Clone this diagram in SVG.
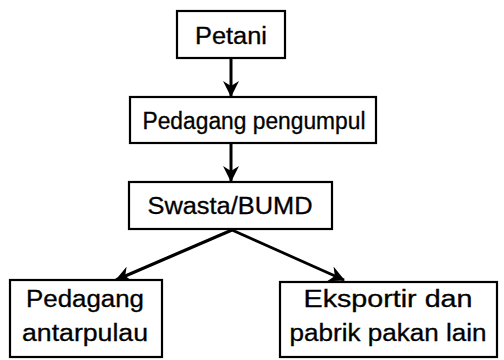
<svg xmlns="http://www.w3.org/2000/svg" width="504" height="360" viewBox="0 0 504 360">
<defs>
<style>
.box{fill:#fff;stroke:#000;stroke-width:2.2}
.t{font-family:"Liberation Sans",Arial,sans-serif;font-size:23px;fill:#000;text-anchor:middle;stroke:#000;stroke-width:0.3}
.c{stroke:#000;stroke-width:3;fill:none}
</style>
<marker id="ah" viewBox="0 0 16 16" refX="15" refY="8" markerWidth="16" markerHeight="16" markerUnits="userSpaceOnUse" orient="auto">
<path d="M0,0 L16,8 L0,16 L5,8 Z" fill="#000"/>
</marker>
</defs>
<rect width="504" height="360" fill="#fff"/>
<g id="connectors">
<line class="c" x1="231" y1="58" x2="231" y2="96" marker-end="url(#ah)"/>
<line class="c" x1="231" y1="143" x2="231" y2="181" marker-end="url(#ah)"/>
<line class="c" x1="232" y1="230" x2="116" y2="280" marker-end="url(#ah)"/>
<line class="c" x1="232" y1="230" x2="344" y2="280" marker-end="url(#ah)"/>
</g>
<g id="petani">
<rect class="box" x="177" y="11" width="108" height="47"/>
<text class="t" x="231" y="44" textLength="72" lengthAdjust="spacingAndGlyphs">Petani</text>
</g>
<g id="pedagang-pengumpul">
<rect class="box" x="130" y="97" width="246" height="46"/>
<text class="t" x="254" y="129" textLength="223" lengthAdjust="spacingAndGlyphs">Pedagang pengumpul</text>
</g>
<g id="swasta-bumd">
<rect class="box" x="129" y="182" width="203" height="47"/>
<text class="t" x="230" y="214" textLength="165" lengthAdjust="spacingAndGlyphs">Swasta/BUMD</text>
</g>
<g id="pedagang-antarpulau">
<rect class="box" x="10" y="280" width="152" height="77"/>
<text class="t" x="85" y="307" textLength="118" lengthAdjust="spacingAndGlyphs">Pedagang</text>
<text class="t" x="85" y="341" textLength="126" lengthAdjust="spacingAndGlyphs">antarpulau</text>
</g>
<g id="eksportir">
<rect class="box" x="280" y="282" width="217" height="75"/>
<text class="t" x="388" y="307" textLength="169" lengthAdjust="spacingAndGlyphs">Eksportir dan</text>
<text class="t" x="388" y="341" textLength="197" lengthAdjust="spacingAndGlyphs">pabrik pakan lain</text>
</g>
</svg>
